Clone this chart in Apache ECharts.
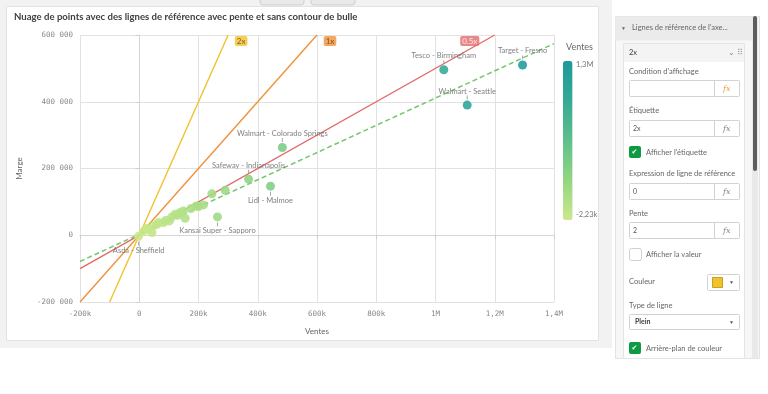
<!DOCTYPE html>
<html><head><meta charset="utf-8">
<script src="https://cdn.jsdelivr.net/npm/echarts@6/dist/echarts.min.js"></script>
<style>html,body{margin:0;padding:0;background:#fff}#c{width:768px;height:394px}</style>
</head><body><div id="c"></div>
<script>
// ---------- data ----------
const chartTitle = 'Nuage de points avec des lignes de référence avec pente et sans contour de bulle';
const storeNames = ['Target - Fresno','Tesco - Birmingham','Walmart - Seattle','Walmart - Colorado Springs',
  'Safeway - Indianapolis','Lidl - Malmoe','Kansai Super - Sapporo','Asda - Sheffield',
  '','','','','','','','','','','','','','','','','','','','','',''];
const ventes = [1294000,1028000,1107000,483000,369000,443000,264000,-2230,
  245000,290000,192000,217000,149000,155000,138000,121000,102000,82000,65000,48000,31000,43000,15000,25000,60000,90000,110000,130000,175000,200000];
const marges = [510000,496000,390000,263000,168000,147000,55000,-3000,
  124000,135000,88000,91000,73000,51000,68000,63000,43000,38000,38000,28000,18000,8000,12000,20000,33000,45000,55000,60000,80000,86000];
const labelSide = ['top','top','top','top','top','bottom','bottom','bottom'];
const xTickLabels = ['-200k','0','200k','400k','600k','800k','1M','1,2M','1,4M'];
const yTickLabels = ['-200 000','0','200 000','400 000','600 000'];
const refLineNames = ['2x','1x','0.5x'];
const refSlopes = [2,1,0.5];
const trendSlope = 0.408, trendIntercept = 3000;
const legendTitle = 'Ventes';
const legendMin = -2230, legendMax = 1300000;
const legendLabels = ['1,3M','-2,23k'];

// ---------- axes ----------
const X_MIN=-200000, X_MAX=1400000, X_INT=200000;
const Y_MIN=-200000, Y_MAX=600000, Y_INT=200000;

function clip(s,b){
  const c=[];
  [X_MIN,X_MAX].forEach(x=>{const y=s*x+b; if(y>=Y_MIN-1e-6&&y<=Y_MAX+1e-6)c.push([x,y]);});
  [Y_MIN,Y_MAX].forEach(y=>{const x=(y-b)/s; if(x>=X_MIN-1e-6&&x<=X_MAX+1e-6)c.push([x,y]);});
  c.sort((a,b)=>a[0]-b[0]);
  return [c[0],c[c.length-1]];
}

const refStyles = [
  {color:'#f2c12e', text:'#5b4a0c', offset:[13,6]},
  {color:'#f0923a', text:'#6e3608', offset:[13,6]},
  {color:'#e36a6a', text:'#ffffff', offset:[-25,6]}
];

const FONT='Lato';
const series=[];
refSlopes.forEach((s,i)=>{
  const pts=clip(s,0);
  series.push({type:'line',data:pts,symbol:'none',silent:true,z:2,
    lineStyle:{color:refStyles[i].color,width:1.4},animation:false});
});
series.push({type:'line',data:clip(trendSlope,trendIntercept),symbol:'none',silent:true,z:2,
  lineStyle:{color:'#74c66c',width:1.5,type:[5,3]},animation:false});
// ref line labels at top intersection
series.push({type:'scatter',symbolSize:0,silent:true,z:5,animation:false,
  data:refSlopes.map((s,i)=>{const p=clip(s,0)[1];return {value:p,
    label:{show:true,formatter:refLineNames[i],position:'inside',offset:refStyles[i].offset,
      backgroundColor:refStyles[i].color,color:refStyles[i].text,fontSize:8,fontFamily:FONT,
      padding:[1,2,1,2],borderRadius:2}};})});
// data scatter
const scatterIndex = series.length;
series.push({type:'scatter',symbolSize:9,z:4,animation:false,
  itemStyle:{opacity:0.88},
  data:ventes.map((v,i)=>{
    const side=labelSide[i];
    const item={value:[v,marges[i]],name:storeNames[i]};
    if(side){
      item.label={show:true,position:side,distance:1,
        formatter: side==='top' ? '{n|'+storeNames[i]+'}\n{l|}' : '{l|}\n{n|'+storeNames[i]+'}',
        rich:{n:{fontSize:7.5,color:'#6e6e6e',fontFamily:FONT,lineHeight:9,align:'center'},
              l:{width:1,height:4,lineHeight:4,backgroundColor:'#9a9a9a',align:'center'}}};
    }
    return item;
  })});

const g=[];
function T(x,y,text,o){g.push(Object.assign({type:'text',x:x,y:y,z:50,silent:true,
  style:Object.assign({text:text,fill:'#666',font:'7.5px '+FONT,textVerticalAlign:'middle'},o||{})}));}
function R(x,y,w,h,fill,stroke,r,z){g.push({type:'rect',z:z==null?40:z,silent:true,shape:{x:x,y:y,width:w,height:h,r:r||0},
  style:{fill:fill,stroke:stroke||null,lineWidth:1}});}
// backgrounds
R(0,0,612,348,'#f2f2f2',null,0,-100);
R(6.5,6.5,592,334,'#ffffff','#e3e3e3',0,-99);
R(260,-4,44,9,'#e9e9e9','#cfcfcf',3,-98);
R(311,-4,44,9,'#e9e9e9','#cfcfcf',3,-98);
// title
T(14,17,chartTitle,{fill:'#404040',font:'bold 9.6px '+FONT});
// legend
T(566,47,legendTitle,{fill:'#666',font:'9px '+FONT});
T(576,65,legendLabels[0],{fill:'#777',font:'7.5px '+FONT});
T(576,215,legendLabels[1],{fill:'#777',font:'7.5px '+FONT});
// right panel
R(615.5,16.5,144,342,'#f7f7f7','#e3e3e3',0,30);
R(615.5,16.5,137,24,'#ebebeb',null,0,31);
R(752,16,6,342,'#e9e9e9',null,0,31);
R(753,16,4,155,'#5e5e5e',null,2,32);
T(621,28,'▼',{font:'5px '+FONT,fill:'#666'});
T(632,28,"Lignes de référence de l'axe...",{fill:'#666'});
R(623.5,43.5,121,315,'#ffffff','#e4e4e4',0,33);
R(624,44,120,18,'#f4f4f4',null,0,34);
T(629,53,'2x',{fill:'#404040'});
T(728,52,'⌄',{fill:'#888',font:'8px '+FONT});
T(737,53,'⠿',{fill:'#999',font:'8px DejaVu Sans'});
function input(y,val,fxColor){
  R(629.5,y+0.5,110,16,'#fff','#d3d3d3',1,35);
  g.push({type:'line',z:36,silent:true,shape:{x1:714.5,y1:y+0.5,x2:714.5,y2:y+16.5},style:{stroke:'#d3d3d3'}});
  if(val) T(633,y+8.5,val,{fill:'#555',font:'7px '+FONT});
  T(723,y+8.5,'fx',{fill:fxColor||'#888',font:'italic 8px DejaVu Serif'});
}
T(629,72,"Condition d'affichage");
input(80,'','#e9a23b');
T(629,111,'Étiquette');
input(120,'2x');
function check(y,on,label){
  if(on){R(629,y,12,12,'#0d9a43',null,2,35); T(631.5,y+6.5,'✔',{fill:'#fff',font:'7px DejaVu Sans'});}
  else R(629.5,y+0.5,12,12,'#fff','#cfcfcf',2,35);
  T(646,y+6.5,label);
}
check(146,true,"Afficher l'étiquette");
T(629,174,'Expression de ligne de référence');
input(183,'0');
T(629,214,'Pente');
input(222,'2');
check(248,false,'Afficher la valeur');
T(629,282,'Couleur');
R(707.5,274.5,32,16,'#fff','#d3d3d3',1,35);
R(712.5,277.5,10,10,'#f2c12e','#c9a022',0,36);
T(729,282,'▼',{font:'5px '+FONT,fill:'#555'});
T(629,306,'Type de ligne');
R(629.5,314.5,110,15,'#fff','#d3d3d3',1,35);
T(635,322,'Plein',{fill:'#404040',font:'bold 7px '+FONT});
T(729,322,'▼',{font:'5px '+FONT,fill:'#555'});
check(342,true,'Arrière-plan de couleur');

const chart=echarts.init(document.getElementById('c'),null,{renderer:'canvas'});
chart.setOption({
  animation:false,
  backgroundColor:'#ffffff',
  grid:{left:80,right:214,top:35,bottom:92,containLabel:false},
  xAxis:{type:'value',min:X_MIN,max:X_MAX,interval:X_INT,
    name:'Ventes',nameLocation:'middle',nameGap:25,
    nameTextStyle:{color:'#666',fontSize:8,fontFamily:FONT},
    axisLine:{show:true,lineStyle:{color:'#d6d6d6'}},
    axisTick:{show:true,length:4,lineStyle:{color:'#cfcfcf'}},
    axisLabel:{color:'#888',fontSize:7.5,fontFamily:'DejaVu Sans Mono',margin:8,
      formatter:v=>xTickLabels[Math.round((v-X_MIN)/X_INT)]},
    splitLine:{show:true,lineStyle:{color:'#e2e2e2'}}},
  yAxis:{type:'value',min:Y_MIN,max:Y_MAX,interval:Y_INT,
    name:'Marge',nameLocation:'middle',nameGap:57,
    nameTextStyle:{color:'#666',fontSize:8,fontFamily:FONT},
    axisLine:{show:true,lineStyle:{color:'#d6d6d6'}},
    axisTick:{show:true,length:4,lineStyle:{color:'#cfcfcf'}},
    axisLabel:{color:'#888',fontSize:7.5,fontFamily:'DejaVu Sans Mono',margin:7,
      formatter:v=>yTickLabels[Math.round((v-Y_MIN)/Y_INT)]},
    splitLine:{show:true,lineStyle:{color:'#e2e2e2'}}},
  visualMap:{type:'continuous',min:legendMin,max:legendMax,dimension:0,seriesIndex:scatterIndex,
    left:563,top:61,itemWidth:9.5,itemHeight:159,padding:0,calculable:false,text:null,showLabel:false,
    inRange:{color:['#cbe98a','#93d681','#5fc08b','#36a996','#1e9a9b']}},
  graphic:g,
  series:series
});
</script></body></html>
